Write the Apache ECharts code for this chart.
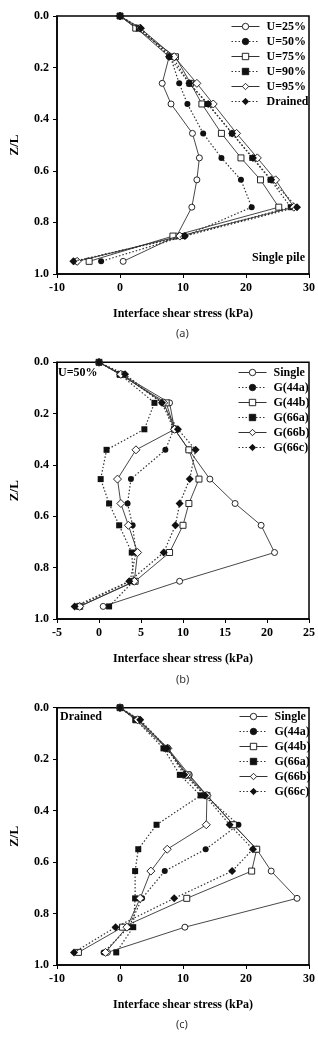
<!DOCTYPE html>
<html><head><meta charset="utf-8">
<script src="https://cdn.jsdelivr.net/npm/echarts@6/dist/echarts.min.js"></script>
<style>html,body{margin:0;padding:0;background:#fff}#c{width:318px;height:1041px}</style>
</head><body><div id="c"></div>
<script>
// Depth ratios (Z/L) shared by all panels
const depths = [0, 0.047, 0.158, 0.261, 0.341, 0.455, 0.55, 0.635, 0.741, 0.853, 0.951];

// Panel (a): single pile, different degrees of consolidation
const namesA = ['U=25%', 'U=50%', 'U=75%', 'U=90%', 'U=95%', 'Drained'];
const u25 = [0, 2.6, 7.8, 6.7, 8.1, 11.5, 12.6, 12.2, 11.4, 9.0, 0.5];
const u50 = [0, 3.0, 8.0, 9.4, 10.7, 13.2, 16.1, 19.2, 20.9, 10.3, -3.0];
const u75 = [0, 2.5, 8.8, 11.2, 13.0, 16.1, 19.2, 22.3, 25.2, 8.4, -4.9];
const u90 = [0, 3.0, 8.3, 11.0, 13.9, 17.8, 21.0, 23.9, 27.1, 10.0, -7.0];
const u95 = [0, 3.2, 8.6, 12.2, 14.8, 18.5, 21.8, 24.7, 27.6, 9.5, -6.8];
const drainedA = [0, 3.3, 7.8, 11.0, 14.0, 17.8, 21.1, 24.0, 28.1, 10.3, -7.4];

// Panel (b): U=50%, groups
const namesG = ['Single', 'G(44a)', 'G(44b)', 'G(66a)', 'G(66b)', 'G(66c)'];
const bSingle = [0, 2.7, 8.4, 9.0, 10.7, 13.2, 16.2, 19.3, 20.9, 9.6, 0.5];
const bG44a = [0, 2.8, 7.5, 8.9, 7.9, 3.8, 3.4, 4.0, 4.4, 3.7, -2.6];
const bG44b = [0, 2.5, 8.0, 9.0, 10.7, 11.9, 10.7, 10.0, 8.4, 4.3, -2.3];
const bG66a = [0, 2.5, 6.6, 5.4, 0.9, 0.2, 1.2, 2.4, 3.9, 4.1, 1.2];
const bG66b = [0, 2.6, 7.7, 9.0, 4.4, 2.2, 2.6, 3.5, 4.6, 4.2, -2.3];
const bG66c = [0, 3.1, 7.5, 9.4, 11.5, 10.8, 9.6, 9.1, 7.7, 3.6, -2.9];

// Panel (c): drained, groups
const cSingle = [0, 3.0, 7.6, 11.0, 13.8, 18.0, 21.7, 24.0, 28.1, 10.3, -2.0];
const cG44a = [0, 3.0, 7.4, 10.5, 13.5, 18.8, 13.6, 7.1, 3.5, 1.4, -2.6];
const cG44b = [0, 2.5, 7.4, 10.8, 13.8, 18.0, 21.7, 20.9, 10.6, 0.4, -6.6];
const cG66a = [0, 2.5, 6.9, 9.5, 12.8, 5.8, 2.9, 2.4, 2.4, 2.1, -0.6];
const cG66b = [0, 2.8, 7.6, 10.5, 13.8, 13.7, 7.5, 4.9, 3.2, 1.1, -2.3];
const cG66c = [0, 3.2, 7.5, 10.2, 13.5, 17.4, 21.1, 17.8, 8.6, -0.7, -7.3];

const xRanges = [[-10, 30, 10], [-5, 25, 5], [-10, 30, 10]];
const xTitle = 'Interface shear stress (kPa)';
const yTitle = 'Z/L';

const styles = [
  {symbol: 'circle', size: 6, open: true, dotted: false},
  {symbol: 'circle', size: 6, open: false, dotted: true},
  {symbol: 'rect', size: 6, open: true, dotted: false},
  {symbol: 'rect', size: 6, open: false, dotted: true},
  {symbol: 'diamond', size: 8, open: true, dotted: false},
  {symbol: 'diamond', size: 8, open: false, dotted: true}
];

const panels = [
  {names: namesA, data: [u25, u50, u75, u90, u95, drainedA]},
  {names: namesG, data: [bSingle, bG44a, bG44b, bG66a, bG66b, bG66c]},
  {names: namesG, data: [cSingle, cG44a, cG44b, cG66a, cG66b, cG66c]}
];

const grids = [
  {left: 55, top: 16, width: 256.7, height: 258},
  {left: 55, top: 362.3, width: 256, height: 256.7},
  {left: 55, top: 707.7, width: 256.7, height: 257.3}
];
const legendPos = [
  {left: 231, top: 19},
  {left: 238, top: 365},
  {left: 239, top: 709}
];

const FONT = '"Liberation Serif", "Times New Roman", serif';
const txt = {color: '#000', fontFamily: FONT, fontWeight: 'bold', fontSize: 12};

const series = [];
const legends = [];
panels.forEach((p, gi) => {
  p.names.forEach((nm, si) => {
    const st = styles[si];
    series.push({
      type: 'line', name: nm, xAxisIndex: gi, yAxisIndex: gi,
      data: p.data[si].map((v, i) => [v, depths[i]]),
      symbol: st.symbol, symbolSize: st.size,
      itemStyle: st.open
        ? {color: '#fff', borderColor: '#111', borderWidth: 0.9}
        : {color: '#111', borderColor: '#111', borderWidth: 0},
      lineStyle: {color: '#333', width: st.dotted ? 1.2 : 0.9, type: st.dotted ? [1.5, 2] : 'solid'},
      emphasis: {disabled: true}, animation: false, z: 3 + si
    });
  });
  legends.push({
    orient: 'vertical', left: legendPos[gi].left, top: legendPos[gi].top,
    data: p.names, itemWidth: 28, itemHeight: 8, itemGap: 0, padding: 0,
    lineStyle: {width: 1},
    itemStyle: {borderWidth: 0.9},
    textStyle: Object.assign({}, txt, {lineHeight: 15, padding: [0, 0, 0, 2]}),
    selectedMode: false
  });
});

const option = {
  animation: false,
  backgroundColor: '#fff',
  grid: grids.map(g => Object.assign({show: true, borderColor: '#000', borderWidth: 1.5, backgroundColor: 'transparent'}, g)),
  xAxis: xRanges.map((r, i) => ({
    type: 'value', gridIndex: i, min: r[0], max: r[1], interval: r[2],
    name: xTitle, nameLocation: 'middle', nameGap: 34, nameTextStyle: txt,
    axisLine: {show: true, onZero: false, lineStyle: {color: '#000', width: 1.5}},
    axisTick: {show: true, inside: false, length: 4, lineStyle: {color: '#000'}},
    axisLabel: Object.assign({margin: 8}, txt),
    splitLine: {show: false}
  })),
  yAxis: [0, 1, 2].map(i => ({
    type: 'value', gridIndex: i, min: 0, max: 1, interval: 0.2, inverse: true,
    name: yTitle, nameLocation: 'middle', nameGap: 36, nameRotate: 90,
    nameTextStyle: Object.assign({}, txt, {fontSize: 13}),
    axisLine: {show: true, onZero: false, lineStyle: {color: '#000', width: 1.5}},
    axisTick: {show: true, inside: false, length: 4, lineStyle: {color: '#000'}},
    axisLabel: Object.assign({margin: 8, formatter: v => v.toFixed(1)}, txt),
    splitLine: {show: false}
  })),
  legend: legends,
  graphic: [
    {type: 'text', left: 252, top: 252, style: {text: 'Single pile', fill: '#000', font: 'bold 12px ' + FONT}},
    {type: 'text', left: 58, top: 367, style: {text: 'U=50%', fill: '#000', font: 'bold 12px ' + FONT}},
    {type: 'text', left: 60, top: 711, style: {text: 'Drained', fill: '#000', font: 'bold 12px ' + FONT}},
    {type: 'text', left: 176, top: 328, style: {text: '(a)', fill: '#333', font: '11px "Noto Sans", sans-serif'}},
    {type: 'text', left: 176, top: 674, style: {text: '(b)', fill: '#333', font: '11px "Noto Sans", sans-serif'}},
    {type: 'text', left: 176, top: 1019, style: {text: '(c)', fill: '#333', font: '11px "Noto Sans", sans-serif'}}
  ],
  series: series
};

const chart = echarts.init(document.getElementById('c'), null, {renderer: 'canvas'});
chart.setOption(option);
</script>
</body></html>
